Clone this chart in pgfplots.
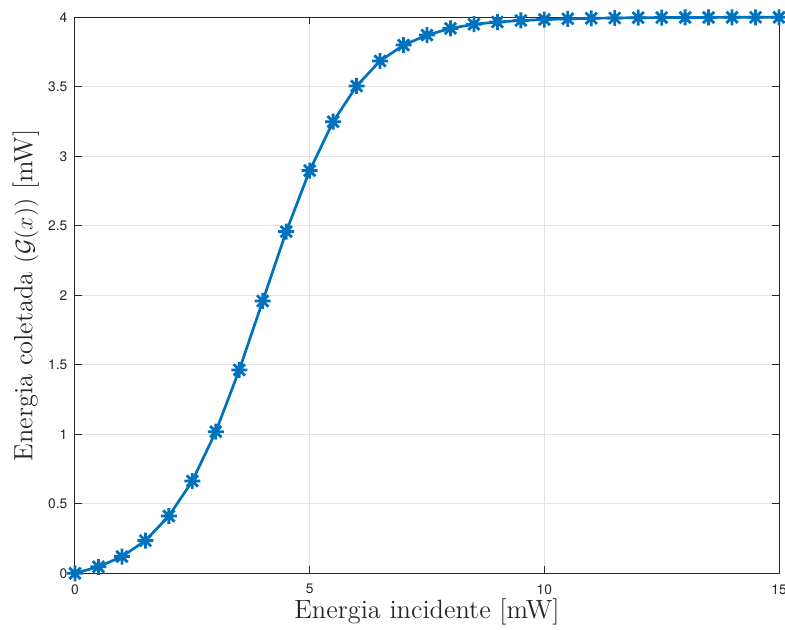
\documentclass[border=0pt]{standalone}
\usepackage{fontspec}
\usepackage{pgfplots}
\pgfplotsset{compat=1.18}
\newfontfamily\helv{TeX Gyre Heros}
\definecolor{mblue}{HTML}{0072BD}
\definecolor{axcol}{HTML}{262626}
\definecolor{gridcol}{HTML}{E3E3E3}

\pgfdeclareplotmark{ast8}{%
  \pgfpathmoveto{\pgfqpoint{-\pgfplotmarksize}{0pt}}%
  \pgfpathlineto{\pgfqpoint{\pgfplotmarksize}{0pt}}%
  \pgfpathmoveto{\pgfqpoint{0pt}{-\pgfplotmarksize}}%
  \pgfpathlineto{\pgfqpoint{0pt}{\pgfplotmarksize}}%
  \pgfpathmoveto{\pgfqpoint{-0.707\pgfplotmarksize}{-0.707\pgfplotmarksize}}%
  \pgfpathlineto{\pgfqpoint{0.707\pgfplotmarksize}{0.707\pgfplotmarksize}}%
  \pgfpathmoveto{\pgfqpoint{-0.707\pgfplotmarksize}{0.707\pgfplotmarksize}}%
  \pgfpathlineto{\pgfqpoint{0.707\pgfplotmarksize}{-0.707\pgfplotmarksize}}%
  \pgfusepathqstroke}

\begin{document}
\begin{tikzpicture}
\begin{axis}[
    name=ax,
    scale only axis,
    width=352pt, height=278pt,
    xmin=0, xmax=15, ymin=0, ymax=4,
    xtick={0,5,10,15},
    ytick={0,0.5,1,1.5,2,2.5,3,3.5,4},
    yticklabels={0,0.5,1,1.5,2,2.5,3,3.5,4},
    grid=major,
    major grid style={gridcol, line width=0.5pt},
    axis line style={axcol, line width=0.5pt},
    tick align=inside,
    major tick length=3.5pt,
    tick style={axcol, line width=0.5pt},
    /pgf/number format/assume math mode=true,
    tick label style={font=\helv\fontsize{6.9}{8}\selectfont, text=axcol},
    yticklabel style={xshift=-0.3pt},
    xticklabel style={yshift=-2pt},
    label style={font=\fontsize{13.2}{15.5}\selectfont, text=axcol},
    xlabel={Energia incidente [mW]},
    ylabel={Energia coletada $(\mathcal{G}(x))$ [mW]},
    xlabel style={at={(axis description cs:0.5,-0.069)}, anchor=center},
    ylabel style={at={(axis description cs:-0.07,0.5)}, anchor=center},
    clip=false,
]
\addplot[mblue, line width=1.35pt, mark=ast8, mark size=4pt,
         mark options={line width=1.4pt}]
coordinates {
(0,0) (0.5,0.047) (1,0.12) (1.5,0.235) (2,0.412) (2.5,0.664)
(3,1.019) (3.5,1.463) (4,1.959) (4.5,2.458) (5,2.897)
(5.5,3.249) (6,3.506) (6.5,3.686) (7,3.80) (7.5,3.872)
(8,3.92) (8.5,3.95) (9,3.966) (9.5,3.977) (10,3.984)
(10.5,3.989) (11,3.993) (11.5,3.995) (12,3.997) (12.5,3.998)
(13,3.999) (13.5,3.999) (14,4.0) (14.5,4.0) (15,4.0)
};
\end{axis}
\pgfresetboundingbox
\path[use as bounding box]
  ([xshift=-37.5pt,yshift=-28.35pt]ax.south west)
  rectangle ([xshift=3pt,yshift=8.65pt]ax.north east);
\end{tikzpicture}
\end{document}
